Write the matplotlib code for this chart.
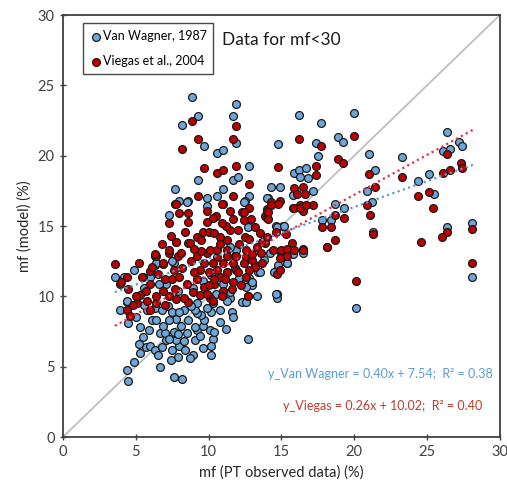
import matplotlib
matplotlib.use("Agg")
import matplotlib.pyplot as plt
import numpy as np

plt.rcParams['font.family'] = ['Lato', 'DejaVu Sans']

# Van Wagner, 1987 (x = observed, y = model)
vw_x = [8.85, 11.9, 9.3, 11.7, 8.2, 11.9, 9.7, 10.6, 11.0, 12.8, 9.3, 11.7, 12.0, 7.7, 11.0,
        8.0, 8.6, 9.9, 10.6, 12.8, 14.3, 14.8, 14.9, 12.5, 14.1, 7.3, 8.5, 9.9, 12.4,
        16.2, 17.7, 20.0, 17.4, 18.9, 19.2, 17.5, 21.0, 23.3, 26.4, 27.2, 27.4, 26.1, 26.6,
        21.4, 24.4, 25.1, 25.5, 15.9, 16.2, 16.7, 16.3, 16.8, 14.0, 17.2, 15.8, 20.9, 21.2,
        18.7, 19.3, 17.8, 18.4, 14.6, 15.1, 21.3, 26.4, 28.1, 16.5, 15.8, 15.4, 14.8, 28.1,
        18.1, 20.1, 14.7, 15.2, 15.4, 14.8, 13.4, 12.8, 12.4, 13.0, 14.7, 14.7, 11.5, 11.9,
        11.5, 12.7,
        4.5, 4.4, 4.9, 5.3, 5.7, 5.5, 5.2, 5.3, 4.5, 3.9, 4.4, 3.6, 4.2, 6.7, 7.6, 8.2, 7.9,
        8.9, 10.2, 12.7, 6.0, 6.3, 6.8, 7.1, 7.5, 8.0, 8.4, 7.8, 6.7, 7.0, 7.3, 7.6, 7.9,
        8.5, 9.1, 9.2, 10.1, 10.3, 10.2, 10.4, 11.2, 7.8, 7.3, 8.1, 8.6, 9.1, 9.6, 9.7, 10.2,
        9.5, 9.2, 11.6, 11.7, 12.3, 11.3, 12.6, 13.3, 14.6, 13.5, 14.5, 6.1, 6.4, 5.8, 6.3,
        6.8, 7.2, 5.6, 9.1, 9.2, 8.3, 7.5, 7.1, 6.6, 6.3, 7.6, 4.9, 7.9, 10.3, 10.5, 11.5,
        12.6, 13.0, 4.4, 7.5, 6.4, 8.0, 8.8, 9.9, 10.8, 6.9, 5.9, 8.3, 9.6, 8.7, 9.4, 10.8,
        7.4, 6.5, 5.0, 11.0, 12.1, 8.9, 9.6, 10.2, 5.6, 6.0, 13.8, 14.2, 11.8]
vw_y = [24.2, 23.7, 22.8, 22.8, 22.2, 20.9, 20.7, 20.2, 20.4, 19.3, 18.3, 18.3, 18.5, 17.6, 17.6,
        16.8, 16.8, 17.0, 17.1, 17.1, 17.8, 20.8, 17.8, 16.8, 17.0, 15.8, 16.7, 16.4, 16.7,
        22.9, 22.3, 23.0, 20.9, 21.3, 21.0, 20.0, 20.1, 19.9, 21.7, 21.0, 20.7, 20.3, 20.5,
        19.0, 18.2, 18.7, 17.3, 18.8, 19.0, 19.1, 18.5, 18.4, 17.0, 17.5, 17.2, 17.5, 16.7,
        16.6, 16.3, 15.4, 15.4, 15.0, 15.0, 14.6, 14.9, 15.2, 13.1, 13.0, 12.4, 12.0, 11.4,
        13.5, 9.2, 14.9, 15.0, 12.4, 12.2, 11.7, 11.3, 10.9, 10.8, 10.2, 9.9, 9.9, 13.3,
        13.5, 14.9,
        4.0, 4.8, 5.3, 6.0, 6.4, 7.1, 6.6, 7.8, 8.1, 9.0, 9.6, 11.4, 11.4, 5.0, 4.3, 4.1, 5.7,
        5.8, 5.8, 7.0, 6.5, 6.2, 6.4, 6.9, 6.2, 6.5, 6.2, 6.9, 7.4, 7.4, 7.0, 7.5, 7.3,
        7.4, 6.9, 7.6, 7.6, 7.0, 6.5, 7.5, 7.7, 8.4, 8.3, 7.9, 8.3, 7.8, 7.9, 8.3, 8.9,
        8.7, 8.8, 8.9, 8.5, 9.6, 9.7, 9.6, 10.0, 10.2, 11.7, 11.7, 8.3, 8.3, 9.0, 9.2,
        9.0, 9.3, 9.4, 9.0, 9.5, 9.0, 8.9, 10.9, 10.9, 12.2, 12.4, 11.9, 10.4, 9.5, 10.2, 10.3,
        10.7, 11.0, 9.7, 12.5, 12.4, 8.9, 9.3, 9.2, 9.0, 7.9, 7.6, 6.8, 6.3, 5.6, 7.2, 8.2,
        5.5, 5.8, 8.5, 10.9, 11.3, 10.6, 11.1, 11.5, 10.6, 11.4, 12.6, 13.1, 12.0]

# Viegas et al., 2004
vg_x = [8.85, 11.9, 9.3, 11.7, 8.2, 9.7, 10.6, 11.0, 11.9, 12.8, 9.3, 11.7, 14.8, 7.7, 8.0,
        8.6, 8.6, 7.3, 9.9, 10.5, 11.0, 11.5, 12.3, 12.8, 14.0, 13.9, 7.8, 6.3, 7.8,
        16.2, 20.0, 17.7, 18.9, 19.2, 17.4, 17.4, 21.0, 23.3, 26.4, 26.1, 26.6, 27.3, 27.4,
        21.4, 24.4, 25.1, 25.4, 15.9, 16.5, 16.1, 16.6, 15.8, 16.3, 16.5, 17.2, 14.3, 14.0,
        14.0, 14.9, 20.9, 21.1, 18.7, 19.3, 17.8, 18.4, 14.6, 15.3, 21.3, 26.4, 26.0, 28.1,
        24.6, 18.7, 18.1, 15.7, 16.5, 14.9, 15.4, 28.1, 14.7, 20.1, 15.9, 16.3, 16.7, 14.8,
        3.6, 3.9, 4.5, 4.4, 5.1, 4.4, 4.6, 5.3, 5.5, 6.0, 6.4, 6.9, 7.3, 7.9, 8.6, 9.2, 9.9,
        10.6, 11.3, 11.8, 12.6, 13.3, 13.9, 14.4, 5.8, 6.4, 6.0, 6.4, 6.9, 7.3, 7.5, 8.0,
        8.5, 8.9, 9.2, 9.7, 10.4, 10.8, 11.3, 11.9, 12.6, 13.2, 13.7, 12.7, 10.1, 8.6, 9.4,
        4.0, 5.4, 6.0, 6.3, 7.3, 7.8, 8.7, 9.2, 9.6, 10.3, 9.9, 10.0, 10.4, 10.9, 12.4, 11.7,
        12.4, 11.5, 12.0, 12.5, 12.8, 11.3, 10.8, 13.5, 13.7, 14.0, 14.3, 14.1, 14.1, 15.0,
        15.4, 15.9, 16.5, 14.9, 14.9, 9.5, 10.1, 10.6, 11.3, 11.9, 12.6, 13.0, 13.2, 12.8,
        12.4, 11.7, 11.0, 10.3, 9.7, 9.4, 10.0, 10.6, 11.3, 12.0, 10.4, 11.1, 11.7, 10.0,
        11.0, 12.7, 10.3, 6.9, 8.2, 8.8, 7.6, 7.0, 6.5, 5.0, 5.7, 7.7, 8.3, 9.0, 8.1, 6.8,
        7.4, 8.4, 9.0, 6.1, 5.2, 4.8, 7.0, 7.8, 9.9, 10.9, 11.6, 12.2, 13.0, 13.6, 12.1,
        10.8, 9.5, 11.2, 13.2, 12.9, 10.9]
vg_y = [22.5, 22.1, 21.2, 21.2, 20.5, 19.1, 18.8, 19.0, 19.3, 18.0, 17.1, 17.1, 19.2, 16.6, 15.9,
        15.9, 15.3, 15.2, 16.1, 15.7, 16.6, 16.1, 16.0, 16.3, 16.2, 15.7, 13.9, 12.9, 16.6,
        21.2, 21.4, 20.7, 19.8, 19.5, 19.3, 18.6, 18.7, 18.5, 20.1, 18.8, 19.0, 19.5, 19.1,
        17.8, 17.1, 17.4, 16.3, 17.7, 17.8, 17.3, 17.3, 16.3, 16.5, 16.1, 16.5, 16.7, 16.1,
        15.6, 16.8, 16.5, 15.8, 15.8, 15.6, 14.9, 14.9, 14.6, 14.4, 14.4, 14.6, 14.2, 14.8,
        13.9, 14.0, 13.5, 13.8, 13.4, 13.2, 12.9, 12.4, 11.6, 11.1, 16.3, 16.3, 16.5, 16.6,
        12.3, 10.9, 10.5, 11.4, 9.5, 9.0, 8.6, 10.1, 11.4, 10.9, 12.9, 12.3, 13.1, 12.9, 13.8,
        12.9, 13.1, 12.8, 13.3, 12.9, 13.3, 13.5, 13.8, 13.3, 9.7, 9.5, 9.0, 10.0, 10.4, 10.0,
        11.2, 11.4, 10.9, 10.3, 11.2, 10.7, 10.9, 11.4, 11.7, 11.9, 11.4, 12.2, 12.4, 10.0,
        9.9, 9.6, 10.1,
        11.0, 11.4, 11.8, 13.0, 13.3, 13.9, 13.8, 14.2, 14.6, 15.6, 15.3, 14.6, 14.5, 16.6,
        16.0, 15.5, 15.4, 14.7, 14.7, 14.2, 14.1, 14.0, 14.2, 14.5, 13.9, 14.2, 16.5, 16.0,
        15.5, 13.3, 13.4, 13.3, 13.3, 12.7, 11.9, 13.2, 13.3, 13.3, 12.9, 12.9, 12.8, 12.6,
        12.1, 11.9, 12.4, 12.4, 12.4, 12.4, 12.4, 11.9, 11.7, 11.9, 11.7, 11.7, 11.2, 11.2,
        11.0, 10.8, 10.4, 10.0, 9.7, 12.4, 12.0, 12.5, 11.9, 11.2, 11.6, 10.0, 10.4, 10.5,
        9.9, 11.7, 13.1, 13.7, 14.3, 14.6, 13.4, 12.1, 12.4, 9.4, 9.4, 9.8, 10.2, 10.0,
        10.5, 10.8, 13.0, 13.1, 13.7, 13.7, 14.0, 15.0, 14.9, 15.5, 15.2]

# trend lines (slope, intercept, x range)
vw_fit = (0.368, 8.99)
vg_fit = (0.567, 5.88)
fit_x = [3.57, 28.3]

blue = "#6fa6d9"
red = "#c00000"

fig = plt.figure(figsize=(5.07, 4.84), dpi=100)
ax = fig.add_axes([0.124, 0.097, 0.862, 0.872])

ax.plot([0, 30], [0, 30], color="#bfbfbf", lw=1.3, zorder=1)

ax.scatter(vw_x, vw_y, s=32, c=blue, edgecolors="#1a1a1a", linewidths=0.9,
           label="Van Wagner, 1987", zorder=3)
ax.scatter(vg_x, vg_y, s=32, c=red, edgecolors="#1a1a1a", linewidths=0.9,
           label="Viegas et al., 2004", zorder=4)

fx = np.array(fit_x)
ax.plot(fx, vw_fit[0] * fx + vw_fit[1], ls=(0, (1, 1.5)), color="#5b9bd5", lw=1.6, zorder=5)
ax.plot(fx, vg_fit[0] * fx + vg_fit[1], ls=(0, (1, 1.5)), color="#e8304a", lw=1.6, zorder=5)

ax.set_xlim(0, 30)
ax.set_ylim(0, 30)
ax.set_xticks([0, 5, 10, 15, 20, 25, 30])
ax.set_yticks([0, 5, 10, 15, 20, 25, 30])
ax.tick_params(direction="inout", length=5, width=1, color="#404040",
               labelsize=10.5, labelcolor="#404040")
for sp in ax.spines.values():
    sp.set_color("#404040")
    sp.set_linewidth(1.3)

ax.set_xlabel("mf (PT observed data) (%)", fontsize=10.5, color="#262626")
ax.set_ylabel("mf (model) (%)", fontsize=10.5, color="#262626")

ax.text(10.9, 27.9, "Data for mf<30", fontsize=12.5, color="#1a1a1a")
ax.text(29.5, 4.5, "y_Van Wagner = 0.40x + 7.54;  R\u00b2 = 0.38", fontsize=9,
        color="#5b9bd5", ha="right", va="center")
ax.text(28.8, 2.2, "y_Viegas = 0.26x + 10.02;  R\u00b2 = 0.40", fontsize=9,
        color="#c0392b", ha="right", va="center")

leg = ax.legend(loc="upper left", bbox_to_anchor=(0.045, 0.98), fontsize=9,
                frameon=True, fancybox=False, edgecolor="#1a1a1a", handletextpad=0.05,
                borderpad=0.55, labelspacing=1.0, handlelength=1.0, borderaxespad=0)
leg.get_frame().set_linewidth(1.0)

fig.savefig("out.png", dpi=100)
